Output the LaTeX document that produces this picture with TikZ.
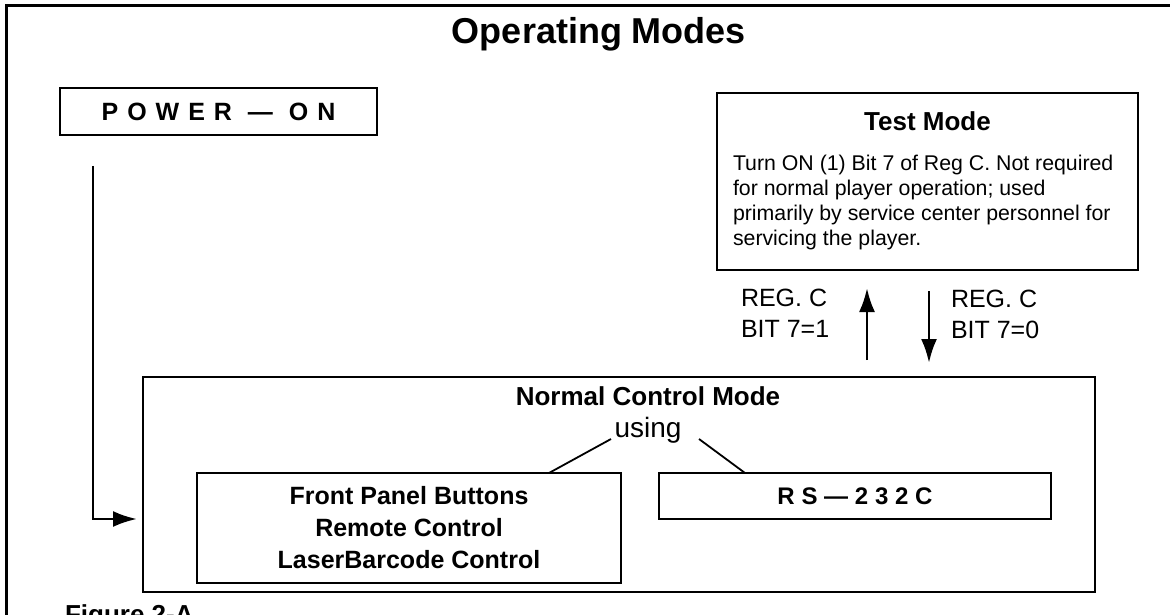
\documentclass[tikz,border=0pt]{standalone}
\usepackage{fontspec}
\setmainfont{Liberation Sans}
\usetikzlibrary{positioning,arrows.meta}

\begin{document}
\begin{tikzpicture}[
    x = 1pt, y = -1pt,
    every node/.style = {inner sep = 0pt, outer sep = 0pt},
    modebox/.style = {draw, line width = 1.3pt},
    flow/.style = {line width = 2.8pt, -{Latex[length = 24pt, width = 16pt]}},
    link/.style = {line width = 1.8pt},
    headtxt/.style = {font = \bfseries\fontsize{26}{32}\selectfont},
    labeltxt/.style = {font = \fontsize{25}{31}\selectfont, align = left}
  ]
  \useasboundingbox (0,0) rectangle (1170,615);
  \draw[line width = 3pt] (6,660) |- (1220,6);

  \node[font = \bfseries\fontsize{36}{40}\selectfont, anchor = base]
    (title) at (599,44) {Operating Modes};

  % power on and its line down to normal mode
  \node[modebox, minimum width = 317pt, minimum height = 47pt,
    font = \bfseries\fontsize{25}{30}\selectfont\addfontfeature{LetterSpace=36}]
    (power) at (218.5,111.5) {POWER — ON};

  % test mode
  \node[modebox, minimum width = 421pt, minimum height = 177pt]
    (test) at (927.5,181.5) {};
  \node[headtxt, anchor = base] (testhead) at (927.5,131) {Test Mode};
  \node[font = \fontsize{21.3}{24.7}\selectfont, align = left, anchor = base west]
    (testtext) at (733,245) {Turn ON (1) Bit 7 of Reg C. Not required\\
      for normal player operation; used\\
      primarily by service center personnel for\\
      servicing the player.};

  % normal control mode
  \node[modebox, minimum width = 952pt, minimum height = 215pt]
    (normal) at (619,484.5) {};
  \node[headtxt, anchor = base] (normalhead) at (648,405) {Normal Control Mode};
  \node[font = \fontsize{28}{30}\selectfont, anchor = base] (using) at (648,437) {using};
  \node[modebox, align = center, minimum width = 424pt, minimum height = 110pt,
    font = \bfseries\fontsize{25}{32}\selectfont]
    (panel) at (409,528) {Front Panel Buttons\\Remote Control\\LaserBarcode Control};
  \node[modebox, minimum width = 392pt, minimum height = 46pt,
    font = \bfseries\fontsize{24}{30}\selectfont\addfontfeature{LetterSpace=28}]
    (rs) at (855,496) {RS—232C};

  \node[labeltxt, anchor = base west] (setlabel) at (741,337) {REG. C\\BIT 7=1};
  \node[labeltxt, anchor = base west] (clearlabel) at (951,338) {REG. C\\BIT 7=0};

  \node[headtxt, anchor = base west] (figure) at (65,623) {Figure 2-A};

  \coordinate (pwrtop) at (93,166);
  \coordinate (pwrlevel) at (0,519);
  \coordinate (upline) at (867,0);
  \coordinate (downline) at (929,0);
  \coordinate (usingL) at (611,439);
  \coordinate (usingR) at (699,439);

  \draw[flow, shorten >= 6pt] (pwrtop) |- (normal.west |- pwrlevel);
  \draw[flow, shorten <= 17pt, shorten >= 18pt]
    (normal.north -| upline) -- (test.south -| upline);
  \draw[flow, shorten <= 21pt, shorten >= 14pt]
    (test.south -| downline) -- (normal.north -| downline);
  \draw[link] ([xshift = 140pt]panel.north) -- (usingL);
  \draw[link] (usingR) -- ([xshift = -110pt]rs.north);
\end{tikzpicture}
\end{document}
